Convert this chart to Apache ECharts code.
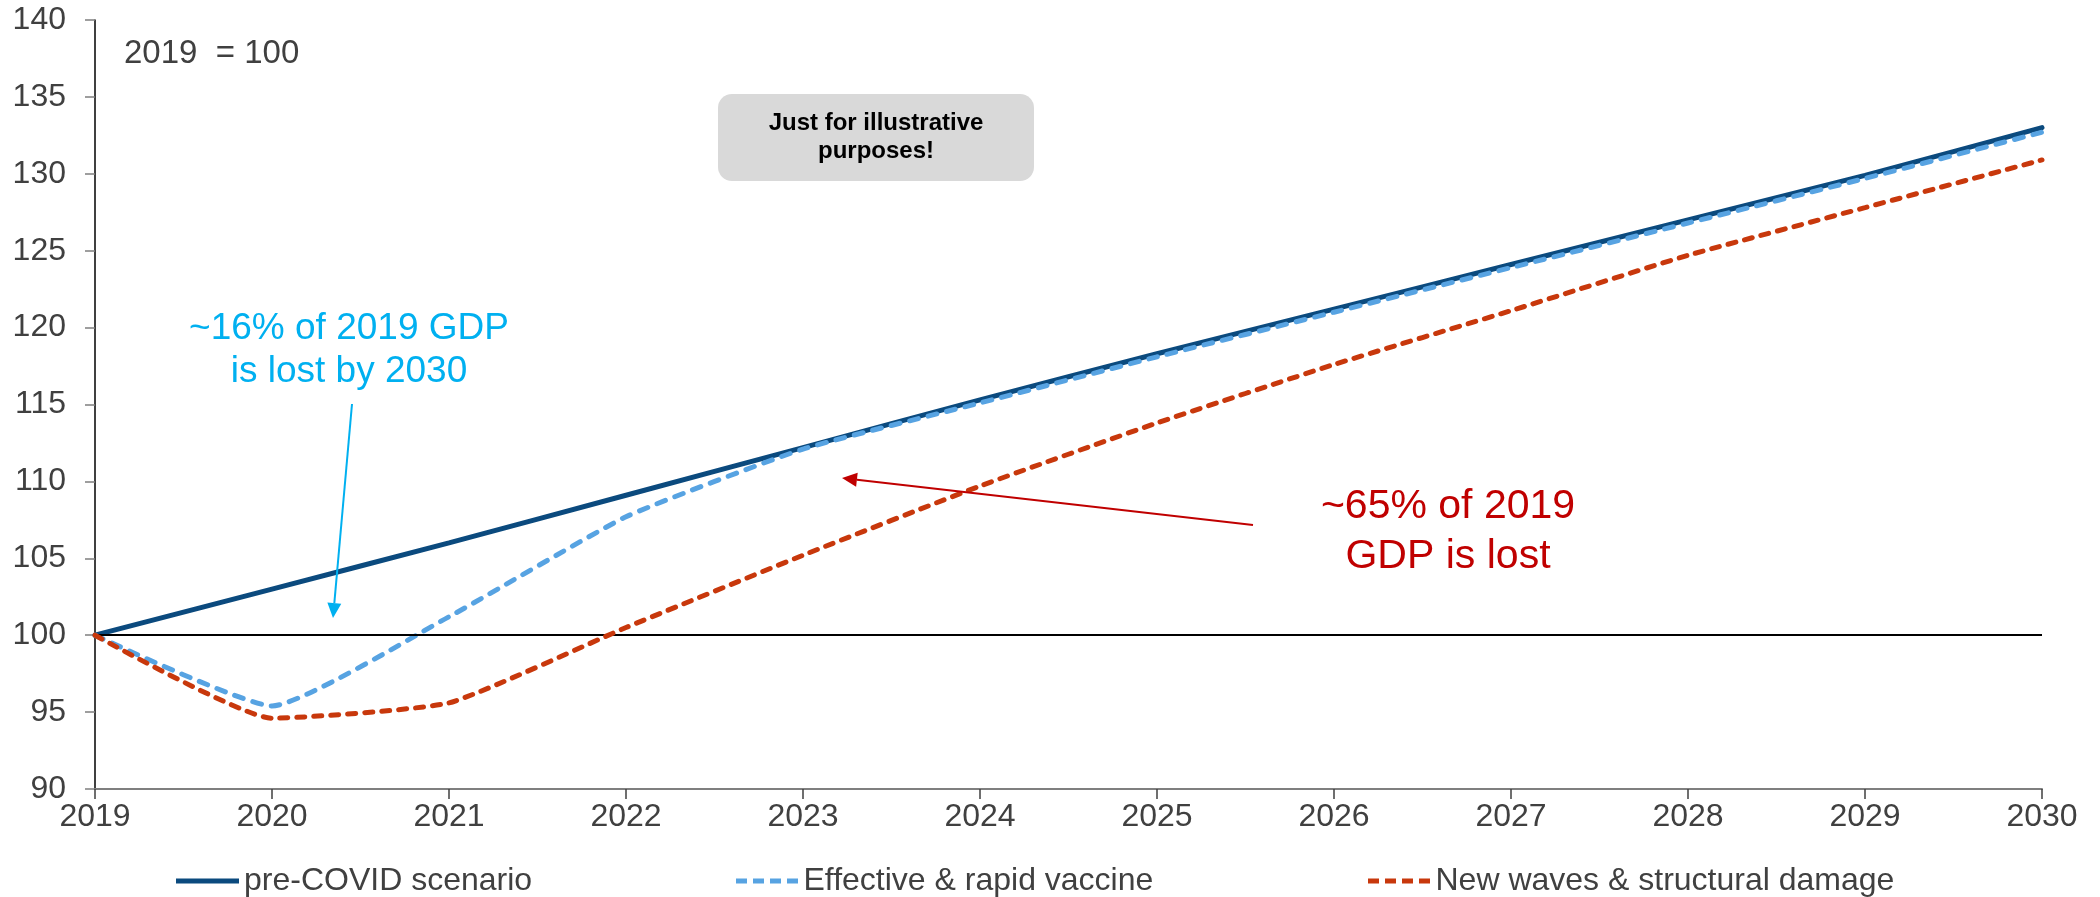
<!DOCTYPE html>
<html>
<head>
<meta charset="utf-8">
<script src="https://cdn.jsdelivr.net/npm/echarts@6/dist/echarts.min.js"></script>
<style>
  html, body { margin: 0; padding: 0; background: #ffffff; }
  #chart { width: 2100px; height: 897px; }
</style>
</head>
<body>
<div id="chart"></div>
<script>
// GDP index paths, 2019 = 100
const years = ['2019', '2020', '2021', '2022', '2023', '2024', '2025', '2026', '2027', '2028', '2029', '2030'];
const preCovid = [100, 103.0, 106.0, 109.1, 112.2, 115.3, 118.3, 121.2, 124.1, 127.0, 129.9, 133.0];
const vaccine  = [100, 95.4, 101.2, 107.7, 112.1, 115.1, 118.1, 121.0, 123.9, 126.8, 129.7, 132.7];
const newWaves = [100, 94.6, 95.6, 100.5, 105.2, 109.7, 113.8, 117.6, 121.1, 124.7, 127.8, 130.9];
const seriesNames = ['pre-COVID scenario', 'Effective & rapid vaccine', 'New waves & structural damage'];
const yTicks = { min: 90, max: 140, step: 5 };

const FONT = '"Liberation Sans", Arial, sans-serif';
const TEXT_GREY = '#404040';

// legend swatches: a solid bar and a four-dash bar
const SOLID_ICON = 'path://M0,0h63v5h-63z';
const DASH_ICON = 'path://M0,0h11v5h-11z M17,0h11v5h-11z M34,0h11v5h-11z M51,0h11v5h-11z';

// straight arrow with a filled triangular head
function arrow(x1, y1, x2, y2, color) {
  const dx = x2 - x1, dy = y2 - y1, len = Math.hypot(dx, dy);
  const ux = dx / len, uy = dy / len;
  const hl = 15, hw = 7;
  const bx = x2 - ux * hl, by = y2 - uy * hl;
  return [
    { type: 'line', silent: true, z: 100,
      shape: { x1: x1, y1: y1, x2: bx, y2: by },
      style: { stroke: color, lineWidth: 2 } },
    { type: 'polygon', silent: true, z: 100,
      shape: { points: [[x2, y2], [bx - uy * hw, by + ux * hw], [bx + uy * hw, by - ux * hw]] },
      style: { fill: color } }
  ];
}

const chart = echarts.init(document.getElementById('chart'));

const legendBase = {
  top: 860,
  itemWidth: 63,
  itemHeight: 5,
  itemGap: 0,
  textStyle: { fontSize: 32, color: TEXT_GREY, fontFamily: FONT }
};

chart.setOption({
  animation: false,
  backgroundColor: '#ffffff',
  textStyle: { fontFamily: FONT },
  grid: { left: 95, right: 58, top: 20, bottom: 108, containLabel: false, outerBoundsMode: 'none' },
  legend: [
    Object.assign({}, legendBase, { left: 171, data: [{ name: seriesNames[0], icon: SOLID_ICON }] }),
    Object.assign({}, legendBase, { left: 731, data: [{ name: seriesNames[1], icon: DASH_ICON }] }),
    Object.assign({}, legendBase, { left: 1363, data: [{ name: seriesNames[2], icon: DASH_ICON }] })
  ],
  xAxis: {
    type: 'category',
    data: years,
    boundaryGap: false,
    axisLine: { lineStyle: { color: '#7f7f7f', width: 2 } },
    axisTick: { show: true, length: 10, lineStyle: { color: '#404040', width: 1.5 } },
    axisLabel: { fontSize: 32, color: TEXT_GREY, margin: 12, fontFamily: FONT },
    splitLine: { show: false }
  },
  yAxis: {
    type: 'value',
    min: yTicks.min,
    max: yTicks.max,
    interval: yTicks.step,
    axisLine: { show: true, lineStyle: { color: '#000000', width: 1.5 } },
    axisTick: { show: true, length: 10, lineStyle: { color: '#7f7f7f', width: 1.5 } },
    axisLabel: { fontSize: 32, color: TEXT_GREY, margin: 29, fontFamily: FONT },
    splitLine: { show: false }
  },
  series: [
    {
      name: seriesNames[0],
      type: 'line',
      data: preCovid,
      smooth: 0.15,
      symbol: 'none',
      z: 3,
      lineStyle: { color: '#0b4a7e', width: 5, cap: 'round' },
      itemStyle: { color: '#0b4a7e' },
      markLine: {
        silent: true,
        symbol: 'none',
        label: { show: false },
        lineStyle: { color: '#000000', width: 2, type: 'solid' },
        data: [{ yAxis: 100 }]
      }
    },
    {
      name: seriesNames[1],
      type: 'line',
      data: vaccine,
      smooth: 0.15,
      symbol: 'none',
      z: 4,
      lineStyle: { color: '#57a3e2', width: 5, type: [9, 10], cap: 'round' },
      itemStyle: { color: '#57a3e2' }
    },
    {
      name: seriesNames[2],
      type: 'line',
      data: newWaves,
      smooth: 0.15,
      symbol: 'none',
      z: 5,
      lineStyle: { color: '#c8380c', width: 5, type: [8, 9], cap: 'round' },
      itemStyle: { color: '#c8380c' }
    }
  ],
  graphic: [
    { type: 'text', x: 124, y: 54, silent: true,
      style: { text: '2019  = 100', fontSize: 33, fontFamily: FONT, fill: TEXT_GREY,
               align: 'left', verticalAlign: 'middle' } },
    { type: 'rect', silent: true,
      shape: { x: 718, y: 94, width: 316, height: 87, r: 14 },
      style: { fill: '#d9d9d9' } },
    { type: 'text', x: 876, y: 137, silent: true,
      style: { text: 'Just for illustrative\npurposes!', fontSize: 24, fontWeight: 'bold',
               fontFamily: FONT, fill: '#000000', align: 'center', verticalAlign: 'middle',
               lineHeight: 28 } },
    { type: 'text', x: 349, y: 350, silent: true,
      style: { text: '~16% of 2019 GDP\nis lost by 2030', fontSize: 37, fontFamily: FONT,
               fill: '#00b0f0', align: 'center', verticalAlign: 'middle', lineHeight: 43 } },
    { type: 'text', x: 1448, y: 532, silent: true,
      style: { text: '~65% of 2019\nGDP is lost', fontSize: 41, fontFamily: FONT,
               fill: '#c00000', align: 'center', verticalAlign: 'middle', lineHeight: 50 } }
  ]
    .concat(arrow(352, 404, 333, 618, '#00b0f0'))
    .concat(arrow(1253, 525, 842, 478, '#c00000'))
});
</script>
</body>
</html>
